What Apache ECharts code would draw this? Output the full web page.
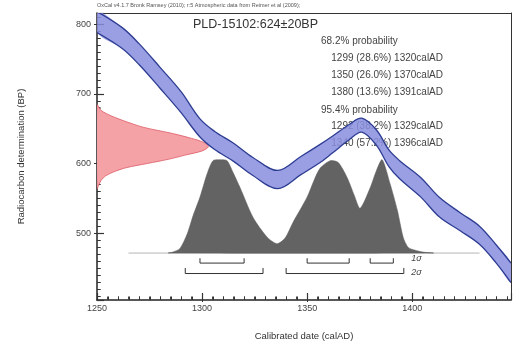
<!DOCTYPE html>
<html>
<head>
<meta charset="utf-8">
<script src="https://cdn.jsdelivr.net/npm/echarts@6/dist/echarts.min.js"></script>
<style>html,body{margin:0;padding:0;background:#fff;}#c{width:513px;height:347px;}</style>
</head>
<body>
<div id="c"></div>
<script>
// ---- data ----
const curveYear = [1250, 1262, 1270, 1280, 1290, 1299, 1306, 1315, 1324, 1336, 1347, 1356, 1362, 1370, 1376, 1383, 1389, 1394, 1404, 1413, 1423, 1432, 1440, 1447];
const curveBP   = [803, 780, 757, 723, 688, 651, 633, 616, 596, 577, 597, 614, 627, 645, 655, 637, 607, 591, 566, 537, 516, 497, 470, 443];
const curveErr  = [15, 15, 15, 15, 15, 13, 13, 13, 13, 13, 13, 13, 12, 11, 10, 11, 12, 13, 14, 14, 13, 13, 13, 14];

const redBP    = [684, 676, 668, 661, 652, 643, 636, 630, 624, 618, 612, 606, 600, 594, 588, 582, 576, 570, 564];
const redWidth = [0, 2, 7, 13, 22, 36, 45, 51, 53, 50, 42, 34, 24, 14, 8, 4, 2, 1, 0];

const greyYear = [1284, 1286, 1289.5, 1293, 1295.7, 1299, 1302.4, 1305.2, 1308.6, 1311.9, 1314.8, 1318.1, 1324.3, 1331, 1335.7, 1339.5, 1343.3, 1350, 1353.3, 1356.2, 1361, 1364.8, 1369, 1372.4, 1375.2, 1380, 1382.9, 1385.7, 1389.5, 1392.9, 1395.7, 1398.1, 1401.4, 1405.2, 1410];
const greyDens = [0, 0.01, 0.05, 0.21, 0.40, 0.60, 0.85, 0.99, 1.0, 0.99, 0.86, 0.70, 0.38, 0.17, 0.10, 0.16, 0.33, 0.60, 0.78, 0.91, 0.99, 0.97, 0.81, 0.62, 0.48, 0.70, 0.88, 1.0, 0.74, 0.46, 0.17, 0.06, 0.03, 0.01, 0];
const greyBaseRange = [1265, 1432];

const sigma1 = [[1299, 1320], [1350, 1370], [1380, 1391]];
const sigma2 = [[1292, 1329], [1340, 1396]];

const headerText = 'OxCal v4.1.7 Bronk Ramsey (2010); r:5 Atmospheric data from Reimer et al (2009);';
const sampleTitle = 'PLD-15102:624\u00b120BP';
const prob68 = '68.2% probability';
const ranges68 = ['1299 (28.6%) 1320calAD', '1350 (26.0%) 1370calAD', '1380 (13.6%) 1391calAD'];
const prob95 = '95.4% probability';
const ranges95 = ['1292 (38.2%) 1329calAD', '1340 (57.2%) 1396calAD'];

// axis ranges and tick steps
const xRange = [1250, 1447], xMajorStep = 50, xMinorStep = 5;
const yRange = [404, 816], yMajorStep = 100, yMinorStep = 10;

// ---- drawing constants ----
const FONT = 'Liberation Sans, Arial, sans-serif';
const greyBase = 471.4, greyScale = 134;
const s1Low = 457, s1High = 464, s2Low = 442, s2High = 450;

const chart = echarts.init(document.getElementById('c'), null, {renderer: 'canvas'});

function bandRender(params, api) {
  const up = curveYear.map((t, i) => api.coord([t, curveBP[i] + curveErr[i]]));
  const lo = curveYear.map((t, i) => api.coord([t, curveBP[i] - curveErr[i]]));
  const poly = up.concat(lo.slice().reverse());
  return {type: 'group', children: [
    {type: 'polygon', shape: {points: poly, smooth: 0.35}, style: {fill: 'rgba(136,141,222,0.85)', stroke: null}},
    {type: 'polyline', shape: {points: up, smooth: 0.35}, style: {stroke: '#2c3c92', lineWidth: 1.3, fill: null}},
    {type: 'polyline', shape: {points: lo, smooth: 0.35}, style: {stroke: '#2c3c92', lineWidth: 1.3, fill: null}}
  ]};
}

function redRender(params, api) {
  const pts = redBP.map((b, i) => api.coord([1250 + redWidth[i], b]));
  return {type: 'polygon', shape: {points: pts, smooth: 0.3},
    style: {fill: '#f5a2a7', stroke: '#dc5a64', lineWidth: 0.8}};
}

function greyRender(params, api) {
  const pts = greyYear.map((t, i) => api.coord([t, greyBase + greyScale * greyDens[i]]));
  const base = [api.coord([greyBaseRange[0], greyBase]), api.coord([greyBaseRange[1], greyBase])];
  return {type: 'group', children: [
    {type: 'line', shape: {x1: base[0][0], y1: base[0][1], x2: base[1][0], y2: base[1][1]}, style: {stroke: '#b5b5b5', lineWidth: 1}},
    {type: 'polygon', shape: {points: pts, smooth: 0.25}, style: {fill: '#636363', stroke: '#5a5a5a', lineWidth: 0.5}}
  ]};
}

function bracketRender(params, api) {
  const children = [];
  const add = (r, lo, hi) => {
    const a = api.coord([r[0], hi]), b = api.coord([r[0], lo]), c = api.coord([r[1], lo]), d = api.coord([r[1], hi]);
    children.push({type: 'polyline', shape: {points: [a, b, c, d]}, style: {stroke: '#333', lineWidth: 1, fill: null}});
  };
  sigma1.forEach(r => add(r, s1Low, s1High));
  sigma2.forEach(r => add(r, s2Low, s2High));
  const l1 = api.coord([1399.5, 464]), l2 = api.coord([1399.5, 443]);
  children.push({type: 'text', style: {x: l1[0], y: l1[1], text: '1\u03c3', fill: '#444', font: 'italic 9px ' + FONT, verticalAlign: 'middle'}});
  children.push({type: 'text', style: {x: l2[0], y: l2[1], text: '2\u03c3', fill: '#444', font: 'italic 9px ' + FONT, verticalAlign: 'middle'}});
  return {type: 'group', children};
}

// axis ticks, placed through the axis scales
function tickRender(params, api) {
  const ch = [];
  const st = {stroke: '#333', lineWidth: 1};
  for (let t = xRange[0] + xMinorStep; t < xRange[1]; t += xMinorStep) {
    const p = api.coord([t, yRange[0]]);
    const major = (t - xRange[0]) % xMajorStep === 0;
    const x = Math.round(p[0]) + 0.5;
    ch.push({type: 'line', shape: {x1: x, y1: p[1] + (major ? 2 : 0), x2: x, y2: p[1] - (major ? 7 : 3.5)}, style: st});
  }
  const yStart = Math.ceil(yRange[0] / yMinorStep) * yMinorStep;
  for (let b = yStart; b < yRange[1]; b += yMinorStep) {
    const p = api.coord([xRange[0], b]);
    const major = b % yMajorStep === 0;
    const y = Math.round(p[1]) + 0.5;
    ch.push({type: 'line', shape: {x1: p[0] - (major ? 3 : 0), y1: y, x2: p[0] + (major ? 7 : 3.5), y2: y}, style: st});
  }
  return {type: 'group', children: ch};
}

const textBlock = [];
textBlock.push({type: 'text', left: 321, top: 36, z: 1, style: {text: prob68, font: '10px ' + FONT, fill: '#444'}});
ranges68.forEach((t, i) => textBlock.push({type: 'text', right: 513 - 443, top: 53 + i * 17, z: 1, style: {text: t, font: '10px ' + FONT, fill: '#444'}}));
textBlock.push({type: 'text', left: 321, top: 105, z: 1, style: {text: prob95, font: '10px ' + FONT, fill: '#444'}});
ranges95.forEach((t, i) => textBlock.push({type: 'text', right: 513 - 443, top: 121 + i * 17, z: 1, style: {text: t, font: '10px ' + FONT, fill: '#444'}}));

const plainNum = v => String(Math.round(v));
const majorTick = {show: true, inside: true, length: 7, lineStyle: {color: '#333', width: 1.2}};
const minorTickStyle = {show: true, splitNumber: 10, length: 3.5, lineStyle: {color: '#444', width: 1}};
const frameAxis = {
  axisLine: {show: true, onZero: false, lineStyle: {color: '#333', width: 1}},
  axisTick: {show: false}, axisLabel: {show: false}, splitLine: {show: false}
};

chart.setOption({
  animation: false,
  backgroundColor: '#fff',
  grid: {left: 97, right: 2, top: 13, bottom: 47, show: false},
  xAxis: [{
    type: 'value', min: xRange[0], max: xRange[1], interval: xMajorStep,
    name: 'Calibrated date (calAD)', nameLocation: 'middle', nameGap: 31,
    nameTextStyle: {fontSize: 9.5, color: '#333', fontFamily: FONT},
    axisLine: {show: true, onZero: false, lineStyle: {color: '#222', width: 1.5}},
    axisTick: majorTick,
    minorTick: minorTickStyle,
    axisLabel: {show: true, fontSize: 9, color: '#444', margin: 4, fontFamily: FONT, showMaxLabel: false, formatter: plainNum},
    splitLine: {show: false}
  }, Object.assign({type: 'value', min: xRange[0], max: xRange[1], position: 'top'}, frameAxis)],
  yAxis: [{
    type: 'value', min: yRange[0], max: yRange[1], minInterval: yMajorStep, maxInterval: yMajorStep,
    name: 'Radiocarbon determination (BP)', nameLocation: 'middle', nameGap: 71,
    nameTextStyle: {fontSize: 9.5, color: '#333', fontFamily: FONT},
    axisLine: {show: true, onZero: false, lineStyle: {color: '#222', width: 1.5}},
    axisTick: majorTick,
    minorTick: minorTickStyle,
    axisLabel: {show: true, fontSize: 9, color: '#444', margin: 6, fontFamily: FONT, showMinLabel: false, showMaxLabel: false, formatter: plainNum},
    splitLine: {show: false}
  }, Object.assign({type: 'value', min: yRange[0], max: yRange[1], position: 'right'}, frameAxis)],
  graphic: [
    {type: 'text', left: 97, top: 2, z: 1, style: {text: headerText, font: '5.5px ' + FONT, fill: '#555'}},
    {type: 'text', left: 193, top: 18, z: 1, style: {text: sampleTitle, font: '12.5px ' + FONT, fill: '#333'}}
  ].concat(textBlock),
  series: [
    {type: 'custom', coordinateSystem: 'cartesian2d', renderItem: tickRender, data: [[1300, 600]], clip: false, z: 1, silent: true},
    {type: 'custom', coordinateSystem: 'cartesian2d', renderItem: redRender, data: [[1300, 600]], clip: true, z: 2, silent: true},
    {type: 'custom', coordinateSystem: 'cartesian2d', renderItem: greyRender, data: [[1300, 600]], clip: true, z: 3, silent: true},
    {type: 'custom', coordinateSystem: 'cartesian2d', renderItem: bracketRender, data: [[1300, 600]], clip: false, z: 3, silent: true},
    {type: 'custom', coordinateSystem: 'cartesian2d', renderItem: bandRender, data: [[1300, 600]], clip: true, z: 4, silent: true}
  ]
});
</script>
</body>
</html>
